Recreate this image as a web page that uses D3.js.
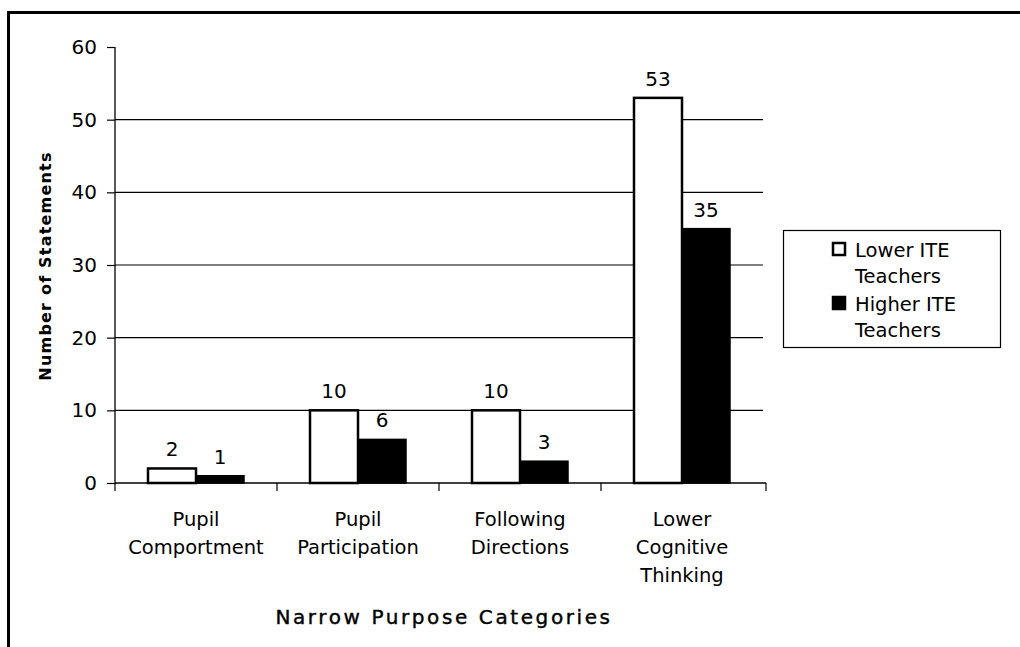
<!DOCTYPE html>
<html><head><meta charset="utf-8">
<script src="https://cdn.jsdelivr.net/npm/d3@7"></script>
<style>body{margin:0;background:#fff}svg{display:block}text{font-family:"DejaVu Sans",Verdana,sans-serif;fill:#000}</style>
</head><body><svg id="c" width="1020" height="647"></svg>
<script>
const categories = [["Pupil","Comportment"],["Pupil","Participation"],["Following","Directions"],["Lower","Cognitive","Thinking"]];
const lowerITE = [2,10,10,53];
const higherITE = [1,6,3,35];
const seriesNames = [["Lower ITE","Teachers"],["Higher ITE","Teachers"]];
const yTicks = [0,10,20,30,40,50,60];

const svg = d3.select("#c");
const m = {left:115, right:763, top:47, bottom:483};
const x = d3.scaleBand().domain(d3.range(categories.length)).range([m.left,m.right]).paddingInner(0).paddingOuter(0);
const y = d3.scaleLinear().domain([0,60]).range([m.bottom,m.top]);
const barW = 48;

// frame
svg.append("path").attr("d","M8.5,647 V12.5 H1020").attr("fill","none").attr("stroke","#000").attr("stroke-width",3);

// gridlines
svg.append("g").selectAll("line").data(yTicks.filter(t=>t>0&&t<60)).join("line")
  .attr("x1",m.left).attr("x2",m.right).attr("y1",d=>y(d)).attr("y2",d=>y(d))
  .attr("stroke","#000").attr("stroke-width",1.2);

// y axis
const ya = svg.append("g").attr("transform",`translate(${m.left},0)`)
  .call(d3.axisLeft(y).tickValues(yTicks).tickSize(8).tickPadding(10));
ya.select(".domain").attr("stroke-width",1.3).attr("d",`M0,${m.top}V${m.bottom}`);
ya.selectAll(".tick line").attr("stroke-width",1.2);
ya.selectAll("text").attr("font-size",20).attr("font-family","DejaVu Sans");

// x axis line and ticks
const xa = svg.append("g").attr("transform",`translate(0,${m.bottom})`);
xa.append("line").attr("x1",m.left).attr("x2",m.right+3).attr("stroke","#000").attr("stroke-width",1.3);
xa.selectAll("line.t").data(d3.range(categories.length+1)).join("line").attr("class","t")
  .attr("x1",d=>d<categories.length?x(d):m.right+3).attr("x2",d=>d<categories.length?x(d):m.right+3)
  .attr("y1",0).attr("y2",8).attr("stroke","#000").attr("stroke-width",1.2);

// bars
const g = svg.append("g");
categories.forEach((c,i)=>{
  const cx = x(i)+x.bandwidth()/2;
  g.append("rect").attr("x",cx-barW).attr("width",barW).attr("y",y(lowerITE[i])).attr("height",y(0)-y(lowerITE[i]))
    .attr("fill","#fff").attr("stroke","#000").attr("stroke-width",2.5);
  g.append("rect").attr("x",cx).attr("width",barW).attr("y",y(higherITE[i])).attr("height",y(0)-y(higherITE[i]))
    .attr("fill","#000").attr("stroke","#000").attr("stroke-width",1.5);
  g.append("text").attr("x",cx-barW/2).attr("y",y(lowerITE[i])-12).attr("text-anchor","middle").attr("font-size",20).text(lowerITE[i]);
  g.append("text").attr("x",cx+barW/2).attr("y",y(higherITE[i])-12).attr("text-anchor","middle").attr("font-size",20).text(higherITE[i]);
  const t = g.append("text").attr("text-anchor","middle").attr("font-size",19.5);
  c.forEach((line,j)=>t.append("tspan").attr("x",cx).attr("y",526+j*28).text(line));
});

// axis titles
svg.append("text").attr("x",444).attr("y",624).attr("text-anchor","middle").attr("font-size",20)
  .attr("letter-spacing",2.6).attr("stroke","#000").attr("stroke-width",0.4).text("Narrow Purpose Categories");
svg.append("text").attr("transform","translate(51,266) rotate(-90)").attr("text-anchor","middle")
  .attr("font-size",16).attr("font-weight","bold").attr("letter-spacing",1.2).text("Number of Statements");

// legend
const lg = svg.append("g");
lg.append("rect").attr("x",783.5).attr("y",230.5).attr("width",217).attr("height",117).attr("fill","#fff").attr("stroke","#000").attr("stroke-width",1.2);
const rowY = [[257,283],[311,337]];
seriesNames.forEach((s,i)=>{
  lg.append("rect").attr("x",833).attr("y",rowY[i][0]-14).attr("width",12).attr("height",12)
    .attr("fill",i===0?"#fff":"#000").attr("stroke","#000").attr("stroke-width",2.5);
  s.forEach((line,j)=>lg.append("text").attr("x",855).attr("y",rowY[i][j]).attr("font-size",19.5).text(line));
});
</script></body></html>
